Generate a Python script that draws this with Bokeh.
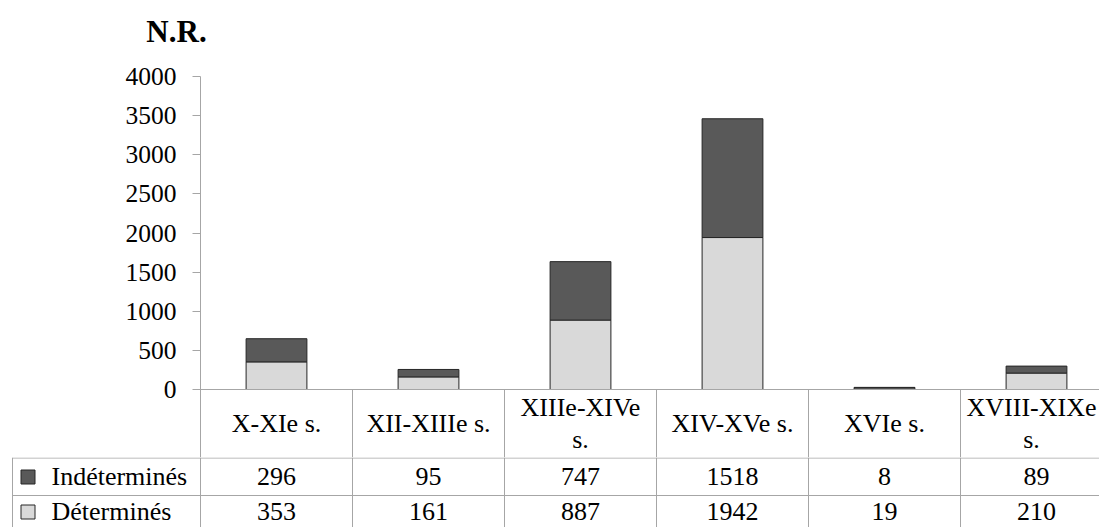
from bokeh.plotting import figure
from bokeh.layouts import column
from bokeh.models import Range1d, FixedTicker, ColumnDataSource
from bokeh.embed import file_html
from bokeh.resources import INLINE
from bokeh.core.properties import value

# ---------------- data ----------------
categories = ["X-XIe s.", "XII-XIIIe s.", "XIIIe-XIVe s.", "XIV-XVe s.", "XVIe s.", "XVIII-XIXe s."]
indetermines = [296, 95, 747, 1518, 8, 89]
determines = [353, 161, 887, 1942, 19, 210]
series_names = ["Indéterminés", "Déterminés"]
y_ticks = [0, 500, 1000, 1500, 2000, 2500, 3000, 3500, 4000]
y_title = "N.R."

# ---------------- layout (page pixels) ----------------
PAGE_W, PAGE_H = 1099, 527
FRAME_L, FRAME_T = 200, 76          # plot frame left / top (value 4000)
PX_ZERO = 389                       # value 0
SPLIT_1, SPLIT_2 = 60, 457          # title strip | chart + header row | table rows
COL_W = 152
YMAX = 4000
ROW_LINES = [457, 495]
unit_per_px = YMAX / (PX_ZERO - FRAME_T)
X0 = -FRAME_L / COL_W
X1 = (PAGE_W - FRAME_L) / COL_W

def xp(px):  # page x -> column units
    return (px - FRAME_L) / COL_W

FONT = "Liberation Serif"
FS_TICK = "25.5px"
FS = "26px"
DARK = "#595959"
LIGHT = "#d9d9d9"
EDGE = "#262626"
GRID = "#a6a6a6"
TXT = "#000000"

n = len(categories)
xs = [i + 0.5 for i in range(n)]
src = ColumnDataSource(dict(x=xs, det=determines, ind=indetermines))

def style(f):
    f.outline_line_color = None
    f.xgrid.visible = False
    f.ygrid.visible = False
    f.background_fill_color = "white"
    f.border_fill_color = "white"
    return f

def bare(h, x_range, y_range):
    f = figure(width=PAGE_W, height=h, x_range=x_range, y_range=y_range,
               output_backend="svg", toolbar_location=None, title=None,
               x_axis_location=None, y_axis_location=None, frame_align=False,
               min_border_left=0, min_border_right=0, min_border_top=0,
               min_border_bottom=0)
    return style(f)

# ---------------- title strip ----------------
head = bare(SPLIT_1, Range1d(X0, X1), Range1d(SPLIT_1, 0))
head.text(x=[xp(176)], y=[31], text=[y_title], text_font=value(FONT),
          text_font_size="31px", text_font_style="bold", text_color=TXT,
          text_align="center", text_baseline="middle")

# ---------------- chart (with the category header row) ----------------
C_H = SPLIT_2 - SPLIT_1
y_min = -(SPLIT_2 - PX_ZERO) * unit_per_px
p = figure(width=PAGE_W, height=C_H, x_range=Range1d(0, X1),
           y_range=Range1d(y_min, YMAX), output_backend="svg",
           toolbar_location=None, title=None, x_axis_location=None,
           frame_align=False,
           min_border_left=FRAME_L, min_border_right=0,
           min_border_top=FRAME_T - SPLIT_1, min_border_bottom=0)
style(p)
p.extra_y_ranges = {"px": Range1d(SPLIT_2, FRAME_T)}

ax = p.yaxis[0]
ax.ticker = FixedTicker(ticks=y_ticks)
ax.axis_line_color = GRID
ax.major_tick_line_color = GRID
ax.major_tick_out = 8
ax.major_tick_in = 0
ax.minor_tick_line_color = None
ax.major_label_standoff = 16
ax.major_label_text_font = FONT
ax.major_label_text_font_size = FS_TICK
ax.major_label_text_color = TXT

p.vbar_stack(["det", "ind"], x="x", width=0.4, source=src,
             fill_color=[LIGHT, DARK], line_color=EDGE, line_width=1)
# table top border and column separators of the header row
p.segment(x0=[0], y0=[0], x1=[X1], y1=[0], line_color=GRID, line_width=1)
p.segment(x0=list(range(1, n)), y0=[0] * (n - 1), x1=list(range(1, n)),
          y1=[y_min] * (n - 1), line_color=GRID, line_width=1)

def wrap(s):
    if len(s) > 12:
        a, b = s.rsplit(" ", 1)
        return a + "\n" + b
    return s

# the last header cell runs against the right edge: nudge it inside
hdr = ColumnDataSource(dict(x=xs, y=[423] * n, text=[wrap(c) for c in categories],
                            dx=[0] * (n - 1) + [-5]))
p.text(x="x", y="y", text="text", x_offset="dx", source=hdr, y_range_name="px",
       text_font=value(FONT), text_font_size=FS, text_color=TXT,
       text_align="center", text_baseline="middle", text_line_height=1.1)

# ---------------- data table rows ----------------
T_H = PAGE_H - SPLIT_2
t = bare(T_H, Range1d(X0, X1), Range1d(PAGE_H, SPLIT_2))
t.segment(x0=list(range(0, n)), y0=[SPLIT_2] * n, x1=list(range(0, n)),
          y1=[PAGE_H + 5] * n, line_color=GRID, line_width=1)
row_y = [ROW_LINES[0] + 0.5, ROW_LINES[1]]
t.segment(x0=[xp(12)] * len(row_y), y0=row_y, x1=[X1] * len(row_y),
          y1=row_y, line_color=GRID, line_width=1)
t.segment(x0=[xp(12)], y0=[ROW_LINES[0]], x1=[xp(12)], y1=[PAGE_H + 5],
          line_color=GRID, line_width=1)

ROW_MID = [476, 511]
for vals, ym in zip([indetermines, determines], ROW_MID):
    t.text(x=xs, y=[ym] * n, text=[str(v) for v in vals],
           text_font=value(FONT), text_font_size=FS, text_color=TXT,
           text_align="center", text_baseline="middle")

# key column: swatch + series name
t.scatter(x=[xp(27.5)] * 2, y=[m + 0.5 for m in ROW_MID], marker="square", size=14,
          fill_color=[DARK, LIGHT], line_color=EDGE, line_width=1)
t.text(x=[xp(51)] * 2, y=ROW_MID, text=series_names,
       text_font=value(FONT), text_font_size=FS, text_color=TXT,
       text_align="left", text_baseline="middle")

layout = column(head, p, t, spacing=0)
open("out.html", "w").write(file_html(layout, INLINE))
